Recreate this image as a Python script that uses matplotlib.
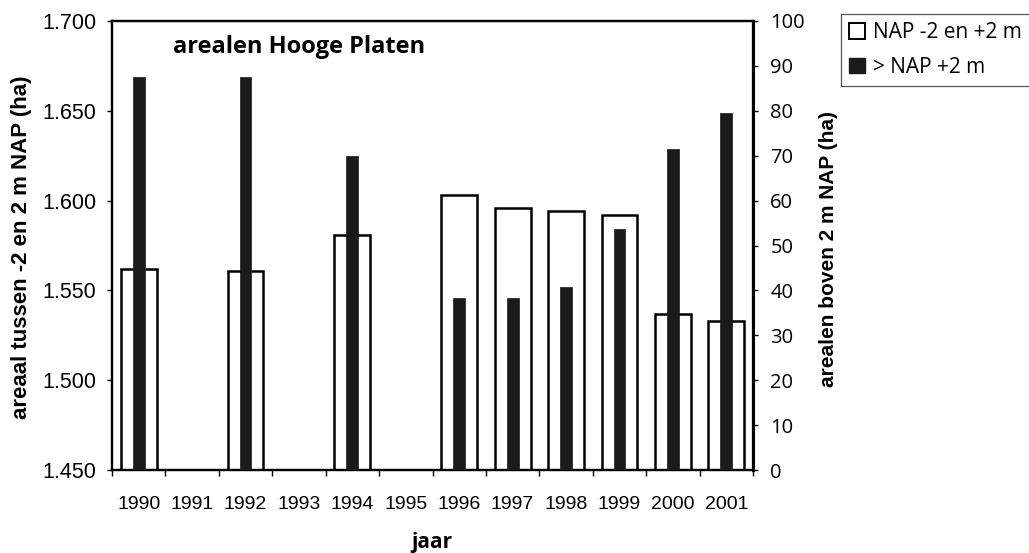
import numpy as np
import matplotlib
matplotlib.use("Agg")
import matplotlib.pyplot as plt
from matplotlib.ticker import FuncFormatter, FixedLocator
from matplotlib.patches import Patch

years = ["1990", "1991", "1992", "1993", "1994", "1995", "1996", "1997", "1998", "1999", "2000", "2001"]
areaal_mid = [1562, np.nan, 1561, np.nan, 1581, np.nan, 1603, 1596, 1594, 1592, 1537, 1533]   # ha, NAP -2 en +2 m
areaal_high = [87.6, np.nan, 87.5, np.nan, 69.9, np.nan, 38.3, 38.3, 40.8, 53.7, 71.6, 79.6]   # ha, > NAP +2 m
left_ticks = [1450, 1500, 1550, 1600, 1650, 1700]
right_ticks = [0, 10, 20, 30, 40, 50, 60, 70, 80, 90, 100]

HUM = ["Open Sans", "DejaVu Sans"]
ARIAL = ["Liberation Sans", "DejaVu Sans"]
W, H = 1029, 553

fig = plt.figure(figsize=(W / 100, H / 100), dpi=100)
ax = fig.add_axes([112 / W, 1 - 470 / H, (753 - 112) / W, (470 - 21) / H])
ax2 = ax.twinx()

x = np.arange(len(years))
ax.bar(x, [v - 1450 for v in areaal_mid], bottom=1450,
       width=0.67, facecolor="white", edgecolor="black", linewidth=1.8, zorder=2)
ax2.bar(x, areaal_high, width=0.22, facecolor="#1a1a1a", edgecolor="#1a1a1a", linewidth=0.5, zorder=3)

ax.set_ylim(1450, 1700)
ax.set_xlim(-0.5, len(years) - 0.5)
ax2.set_ylim(0, 100)
ax.set_yticks(left_ticks)
ax.yaxis.set_major_formatter(FuncFormatter(lambda v, p: f"{v/1000:.3f}"))
ax2.set_yticks(right_ticks)

ax.set_xticks(x)
ax.set_xticklabels(years, fontfamily=ARIAL, fontsize=14)
ax.xaxis.set_minor_locator(FixedLocator(np.arange(-0.5, len(years), 1.0)))
ax.tick_params(axis="x", which="major", length=0, pad=19)
ax.tick_params(axis="x", which="minor", length=4, width=1, direction="out")
ax.tick_params(axis="y", length=3.5, width=1, direction="out", labelsize=15.5, pad=8)
for t in ax.get_yticklabels():
    t.set_fontfamily(ARIAL)
ax2.tick_params(axis="y", length=3.5, width=1, direction="out", labelsize=14.5, pad=9)
for t in ax2.get_yticklabels():
    t.set_fontfamily(HUM)

for a in (ax, ax2):
    for s in a.spines.values():
        s.set_linewidth(1.6)
        s.set_color("black")
ax2.spines["right"].set_linewidth(2.2)

fig.text(22 / W, 1 - 247 / H, "areaal tussen -2 en 2 m NAP (ha)", rotation=90,
         ha="center", va="center", fontfamily=ARIAL, fontweight="bold", fontsize=16)
fig.text(829 / W, 1 - 249 / H, "arealen boven 2 m NAP (ha)", rotation=90,
         ha="center", va="center", fontfamily=ARIAL, fontweight="bold", fontsize=15)
fig.text(432 / W, 1 - 548 / H, "jaar", ha="center", va="baseline",
         fontfamily=HUM, fontweight="bold", fontsize=15)

ax.text((173 - 112) / 641, (470 - 47) / 449, "arealen Hooge Platen", transform=ax.transAxes,
        fontfamily=HUM, fontweight="bold", fontsize=17, va="center", ha="left")

handles = [Patch(facecolor="white", edgecolor="black", linewidth=1.4, label="NAP -2 en +2 m"),
           Patch(facecolor="#1a1a1a", edgecolor="#1a1a1a", label="> NAP +2 m")]
leg = fig.legend(handles=handles, loc="upper left", bbox_to_anchor=(841 / W, 1 - 14 / H),
                 frameon=True, fancybox=False, edgecolor="#555555", framealpha=1,
                 handlelength=0.75, handleheight=0.75, handletextpad=0.4, borderpad=0.4,
                 labelspacing=0.65, borderaxespad=0, prop={"family": HUM, "size": 15})
leg.get_frame().set_linewidth(0.9)

fig.savefig("out.png", dpi=100)
